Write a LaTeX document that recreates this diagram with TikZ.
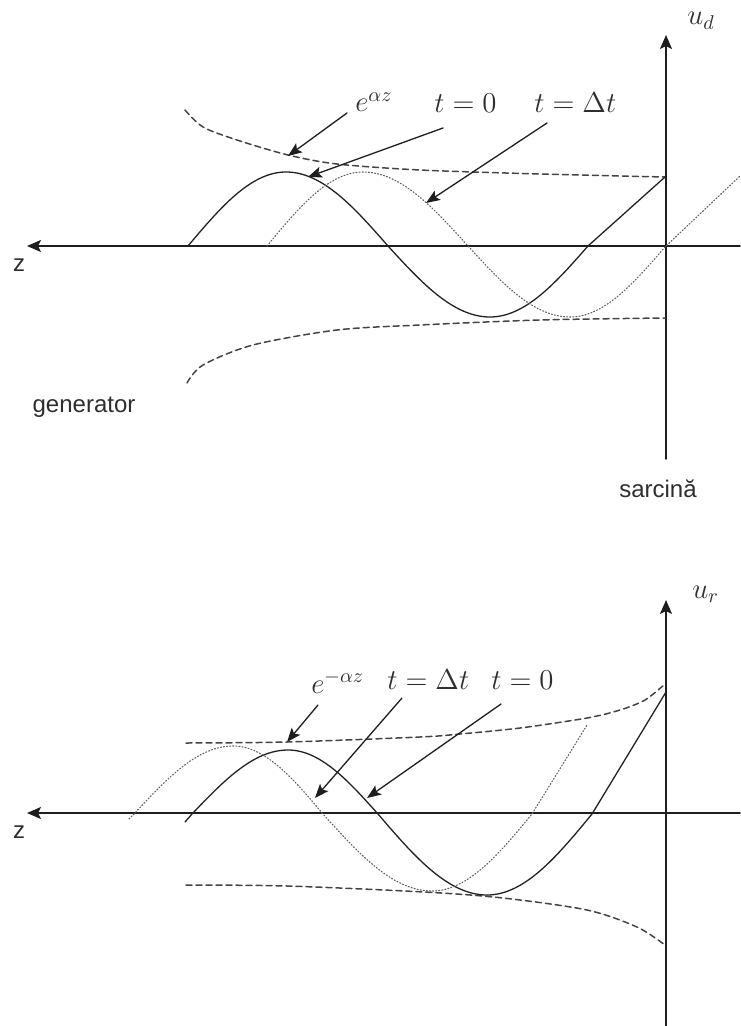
\documentclass[tikz,border=0pt]{standalone}
\usepackage{fontspec}
\setsansfont{Liberation Sans}
\usetikzlibrary{arrows.meta}

\begin{document}
\begin{tikzpicture}[
    x=0.5pt,
    y=-0.5pt,
    line cap=round,
    line join=round,
    every node/.style={inner sep=0pt},
]
\definecolor{axisInk}{HTML}{1E1E1E}
\definecolor{waveInk}{HTML}{222222}
\definecolor{shiftInk}{HTML}{5E5E5E}
\definecolor{envInk}{HTML}{444444}
\definecolor{labelInk}{HTML}{2E2E2E}

\tikzset{
    axis/.style={draw=axisInk,line width=0.8pt,-{Stealth[length=7pt,width=6pt,inset=1.5pt]}},
    wave/.style={draw=waveInk,line width=0.65pt},
    shifted/.style={draw=shiftInk,line width=0.55pt,densely dotted},
    envelope/.style={draw=envInk,line width=0.75pt,dash pattern=on 3pt off 2pt},
    pointer/.style={draw=axisInk,line width=0.65pt,-{Stealth[length=7pt,width=5.5pt,inset=1.5pt]}},
    mathlabel/.style={text=labelInk,font=\fontsize{14}{16}\selectfont},
    wordlabel/.style={text=labelInk,font=\sffamily\fontsize{12}{14}\selectfont},
}

% #1 name prefix, #2 height of the z axis, #3 top of u axis, #4 foot of u axis
\newcommand{\waveaxes}[4]{
    \coordinate (#1zFrom) at (740,#2);
    \coordinate (#1zTip) at (27,#2);
    \coordinate (#1uFrom) at (666,#4);
    \coordinate (#1uTip) at (666,#3);
    \draw[axis] (#1zFrom) -- (#1zTip);
    \draw[axis] (#1uFrom) -- (#1uTip);
}

\useasboundingbox (0,0) rectangle (740,1026);

% direct wave
\waveaxes{dir}{246}{35}{459}

\draw[envelope] plot[smooth] coordinates {(185,110) (203,127) (237,140) (288,155) (337,164) (420,170) (540,174) (665,177)};
\draw[envelope] plot[smooth] coordinates {(187,383) (203,365) (253,345) (337,330) (420,325) (540,320) (665,318)};

\draw[wave] (188,246) sin (286,172) cos (388,246) sin (490,317) cos (588,246) -- (665,177);
\draw[shifted] (267,246) sin (363,172) cos (468,246) sin (570,317) cos (665,247) -- (740,176);

\node[mathlabel,anchor=base west] (eGrow) at (355,112) {$e^{\alpha z}$};
\node[mathlabel,anchor=base west] (tZeroDir) at (434,113) {$t=0$};
\node[mathlabel,anchor=base west] (tStepDir) at (534,113) {$t=\Delta t$};
\node[mathlabel,anchor=base west] (uDir) at (687,25) {$u_d$};

\coordinate (eGrowTail) at (347,113);
\coordinate (eGrowTip) at (288,156);
\coordinate (tZeroDirTail) at (443,128);
\coordinate (tZeroDirTip) at (308,177);
\coordinate (tStepDirTail) at (547,123);
\coordinate (tStepDirTip) at (426,203);
\draw[pointer] (eGrowTail) -- (eGrowTip);
\draw[pointer] (tZeroDirTail) -- (tZeroDirTip);
\draw[pointer] (tStepDirTail) -- (tStepDirTip);

\node[wordlabel] (zDir) at (19,265) {z};
\node[wordlabel,anchor=base] (gen) at (84,412) {generator};
\node[wordlabel,anchor=base] (load) at (658,497) {sarcină};

% reflected wave
\waveaxes{ref}{813}{600}{1026}

\draw[envelope] plot[smooth] coordinates {(186,743) (287,742) (420,737) (460,734) (520,728) (587,718) (620,710) (645,700) (665,684)};
\draw[envelope] plot[smooth] coordinates {(186,885) (287,886) (424,892) (503,898) (587,910) (637,927) (665,945)};

\draw[wave] (185,822) -- (192,814) sin (288,750) cos (378,814) sin (487,895) cos (592,814) -- (666,692);
\draw[shifted] (129,819) -- (134,814) sin (233,746) cos (323,814) sin (432,891) cos (532,814) -- (587,725);

\node[mathlabel,anchor=base west] (eDecay) at (311,693) {$e^{-\alpha z}$};
\node[mathlabel,anchor=base west] (tStepRef) at (387,689) {$t=\Delta t$};
\node[mathlabel,anchor=base west] (tZeroRef) at (491,689) {$t=0$};
\node[mathlabel,anchor=base west] (uRef) at (692,598) {$u_r$};

\coordinate (eDecayTail) at (318,705);
\coordinate (eDecayTip) at (287,742);
\coordinate (tStepRefTail) at (402,698);
\coordinate (tStepRefTip) at (315,798);
\coordinate (tZeroRefTail) at (501,704);
\coordinate (tZeroRefTip) at (367,798);
\draw[pointer] (eDecayTail) -- (eDecayTip);
\draw[pointer] (tStepRefTail) -- (tStepRefTip);
\draw[pointer] (tZeroRefTail) -- (tZeroRefTip);

\node[wordlabel] (zRef) at (19,832) {z};
\end{tikzpicture}
\end{document}
